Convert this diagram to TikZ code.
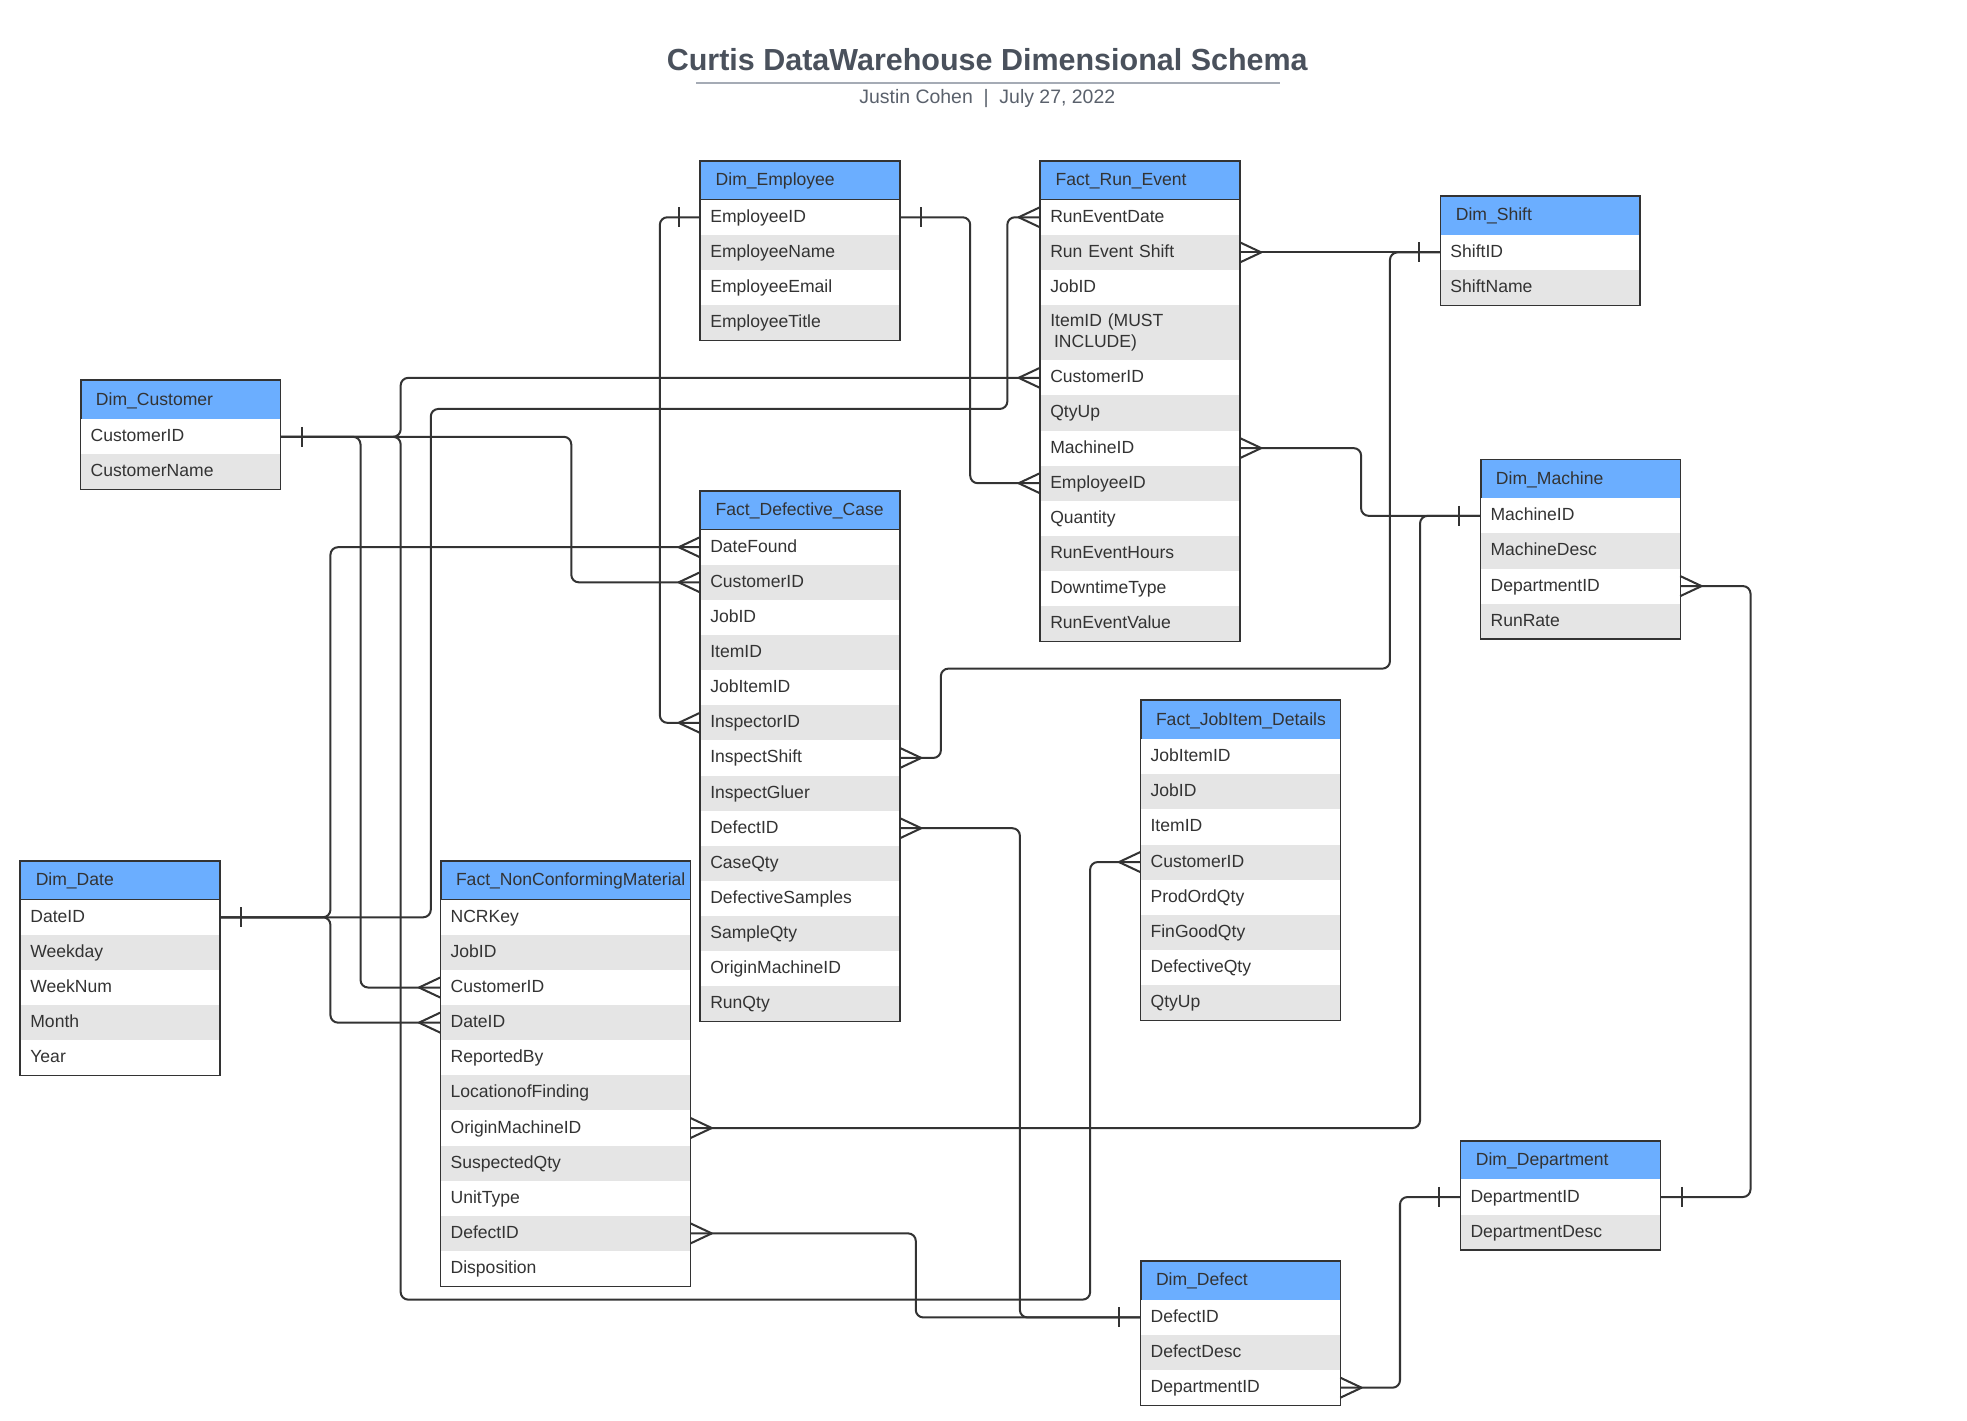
\documentclass[tikz,border=0pt]{standalone}
\usepackage{fontspec}
\setmainfont{Liberation Sans}
\usetikzlibrary{calc}
\definecolor{hdrblue}{HTML}{6BAEFF}
\definecolor{rowgray}{HTML}{E5E5E5}
\definecolor{ink}{HTML}{333333}
\definecolor{titlec}{HTML}{4A515C}
\definecolor{subc}{HTML}{5A616C}
\definecolor{rulec}{HTML}{A5ABB5}
\tikzset{
  hdr/.style={draw=ink, line width=1pt, fill=hdrblue, inner xsep=12pt, inner ysep=0pt, minimum height=31pt, text height=11pt, text depth=3pt, align=left, font=\fontsize{14}{17}\selectfont, text=ink},
  rowst/.style={inner xsep=8pt, inner ysep=0pt, minimum height=28pt, text height=11pt, text depth=3pt, align=left, font=\fontsize{14}{17}\selectfont, text=ink},
  rowtall/.style={inner xsep=8pt, inner ysep=0pt, align=left, font=\fontsize{14}{17}\selectfont, text=ink},
  tblborder/.style={draw=ink, line width=1pt},
  conn/.style={draw=ink, line width=1.6pt, rounded corners=6pt},
  mk/.style={draw=ink, line width=1.6pt, line join=round},
}
\newcommand{\erhead}[5]{\pgfmathsetmacro{\tw}{#4-24}\node[hdr, text width=\tw pt, anchor=north west] (#1) at (#2,#3) {#5};}
\newcommand{\errows}[6]{%
  \pgfmathsetmacro{\tw}{#4-16}%
  \foreach \t [count=\k from #5] in {#6} {%
    \pgfmathsetmacro{\yy}{#3+(\k-#5)*28}%
    \ifodd\k\relax \def\rf{white}\else \def\rf{rowgray}\fi
    \node[rowst, fill=\rf, text width=\tw pt, anchor=north west] (#1\k) at (#2,\yy) {\t};
  }%
}
\newcommand{\crowW}[1]{\draw[mk] ($(#1.west)+(0,-8)$) -- ($(#1.west)+(-17,0)$) -- ($(#1.west)+(0,8)$);}
\newcommand{\crowE}[1]{\draw[mk] ($(#1.east)+(0,-8)$) -- ($(#1.east)+(17,0)$) -- ($(#1.east)+(0,8)$);}
\newcommand{\barW}[1]{\draw[mk] ($(#1.west)+(-17,-8)$) -- ($(#1.west)+(-17,8)$);}
\newcommand{\barE}[1]{\draw[mk] ($(#1.east)+(17,-8)$) -- ($(#1.east)+(17,8)$);}
\begin{document}
\begin{tikzpicture}[x=1pt,y=-1pt]
\useasboundingbox[fill=white] (0,0) rectangle (1568,1132);
% title
\node[font=\bfseries\fontsize{24.3}{29}\selectfont, text=titlec, anchor=base, inner sep=0pt] (title) at (787,56.5) {Curtis DataWarehouse Dimensional Schema};
\draw[rulec, line width=1.2pt] (555,66) -- (1020,66);
\node[font=\fontsize{15.5}{19}\selectfont, text=subc, anchor=base, inner sep=0pt] (subtitle) at (787,82.5) {Justin Cohen\ \ |\ \ July 27, 2022};

% Dim_Employee
\erhead{emp}{558}{128}{159}{Dim\_Employee}
\errows{emp}{558}{159}{159}{1}{EmployeeID,EmployeeName,EmployeeEmail,EmployeeTitle}
\draw[tblborder] (emp.north west) rectangle (emp4.south east);

% Fact_Run_Event
\erhead{fre}{829}{128}{159}{Fact\_Run\_Event}
\errows{fre}{829}{159}{159}{1}{RunEventDate,Run Event Shift,JobID}
\node[rowtall, fill=rowgray, text width=143pt, minimum height=44pt, anchor=north west] (fre4) at (829,243) {ItemID (MUST\\\hspace*{3pt}INCLUDE)};
\errows{fre}{829}{287}{159}{5}{CustomerID,QtyUp,MachineID,EmployeeID,Quantity,RunEventHours,DowntimeType,RunEventValue}
\draw[tblborder] (fre.north west) rectangle (fre12.south east);

% Dim_Shift
\erhead{sh}{1148}{156}{159}{Dim\_Shift}
\errows{sh}{1148}{187}{159}{1}{ShiftID,ShiftName}
\draw[tblborder] (sh.north west) rectangle (sh2.south east);

% Dim_Customer
\erhead{cust}{64}{303}{159}{Dim\_Customer}
\errows{cust}{64}{334}{159}{1}{CustomerID,CustomerName}
\draw[tblborder] (cust.north west) rectangle (cust2.south east);

% Dim_Machine
\erhead{mach}{1180}{366}{159}{Dim\_Machine}
\errows{mach}{1180}{397}{159}{1}{MachineID,MachineDesc,DepartmentID,RunRate}
\draw[tblborder] (mach.north west) rectangle (mach4.south east);

% Fact_Defective_Case
\erhead{dfc}{558}{391}{159}{Fact\_Defective\_Case}
\errows{dfc}{558}{422}{159}{1}{DateFound,CustomerID,JobID,ItemID,JobItemID,InspectorID,InspectShift,InspectGluer,DefectID,CaseQty,DefectiveSamples,SampleQty,OriginMachineID,RunQty}
\draw[tblborder] (dfc.north west) rectangle (dfc14.south east);

% Fact_JobItem_Details
\erhead{fjd}{909}{558}{159}{Fact\_JobItem\_Details}
\errows{fjd}{909}{589}{159}{1}{JobItemID,JobID,ItemID,CustomerID,ProdOrdQty,FinGoodQty,DefectiveQty,QtyUp}
\draw[tblborder] (fjd.north west) rectangle (fjd8.south east);

% Dim_Date
\erhead{date}{16}{686}{159}{Dim\_Date}
\errows{date}{16}{717}{159}{1}{DateID,Weekday,WeekNum,Month,Year}
\draw[tblborder] (date.north west) rectangle (date5.south east);

% Fact_NonConformingMaterial
\erhead{nc}{351}{686}{199}{Fact\_NonConformingMaterial}
\errows{nc}{351}{717}{199}{1}{NCRKey,JobID,CustomerID,DateID,ReportedBy,LocationofFinding,OriginMachineID,SuspectedQty,UnitType,DefectID,Disposition}
\draw[tblborder] (nc.north west) rectangle (nc11.south east);

% Dim_Department
\erhead{dept}{1164}{909}{159}{Dim\_Department}
\errows{dept}{1164}{940}{159}{1}{DepartmentID,DepartmentDesc}
\draw[tblborder] (dept.north west) rectangle (dept2.south east);

% Dim_Defect
\erhead{def}{909}{1005}{159}{Dim\_Defect}
\errows{def}{909}{1036}{159}{1}{DefectID,DefectDesc,DepartmentID}
\draw[tblborder] (def.north west) rectangle (def3.south east);

% connectors
\draw[conn] (emp1.west) -- ++(-32,0) |- (dfc6.west);
\draw[conn] (emp1.east) -- ++(56,0) |- (fre8.west);
\draw[conn] (sh1.west) -- (fre2.east);
\draw[conn] (sh1.west) -- ++(-40,0) |- (750,533) |- (dfc7.east);
\draw[conn] (mach1.west) -- ++(-95,0) |- (fre7.east);
\draw[conn] (mach1.west) -- ++(-48,0) |- (nc7.east);
\draw[conn] (mach3.east) -- ++(56,0) |- (dept1.east);
\draw[conn] (dept1.west) -- ++(-48,0) |- (def3.east);
\draw[conn] (def1.west) -- ++(-96,0) |- (dfc9.east);
\draw[conn] (def1.west) -- ++(-179,0) |- (nc10.east);
\draw[conn] (cust1.east) -- ++(96,0) |- (fre5.west);
\draw[conn] (cust1.east) -- ++(232,0) |- (dfc2.west);
\draw[conn] (cust1.east) -- ++(64,0) |- (nc3.west);
\draw[conn] (cust1.east) -- ++(96,0) |- (869,1036) |- (fjd4.west);
\draw[conn] (date1.east) -- ++(168,0) |- (803,326) |- (fre1.west);
\draw[conn] (date1.east) -- ++(88,0) |- (dfc1.west);
\draw[conn] (date1.east) -- ++(88,0) |- (nc4.west);

% one-bars
\barW{emp1} \barE{emp1} \barW{sh1} \barW{mach1} \barE{dept1} \barW{dept1} \barW{def1} \barE{cust1} \barE{date1}
% crow's feet
\crowW{dfc6} \crowW{fre8} \crowE{fre2} \crowE{dfc7} \crowE{fre7} \crowE{nc7} \crowE{mach3} \crowE{def3} \crowE{dfc9} \crowE{nc10}
\crowW{fre5} \crowW{dfc2} \crowW{nc3} \crowW{fjd4} \crowW{fre1} \crowW{dfc1} \crowW{nc4}
\end{tikzpicture}
\end{document}
